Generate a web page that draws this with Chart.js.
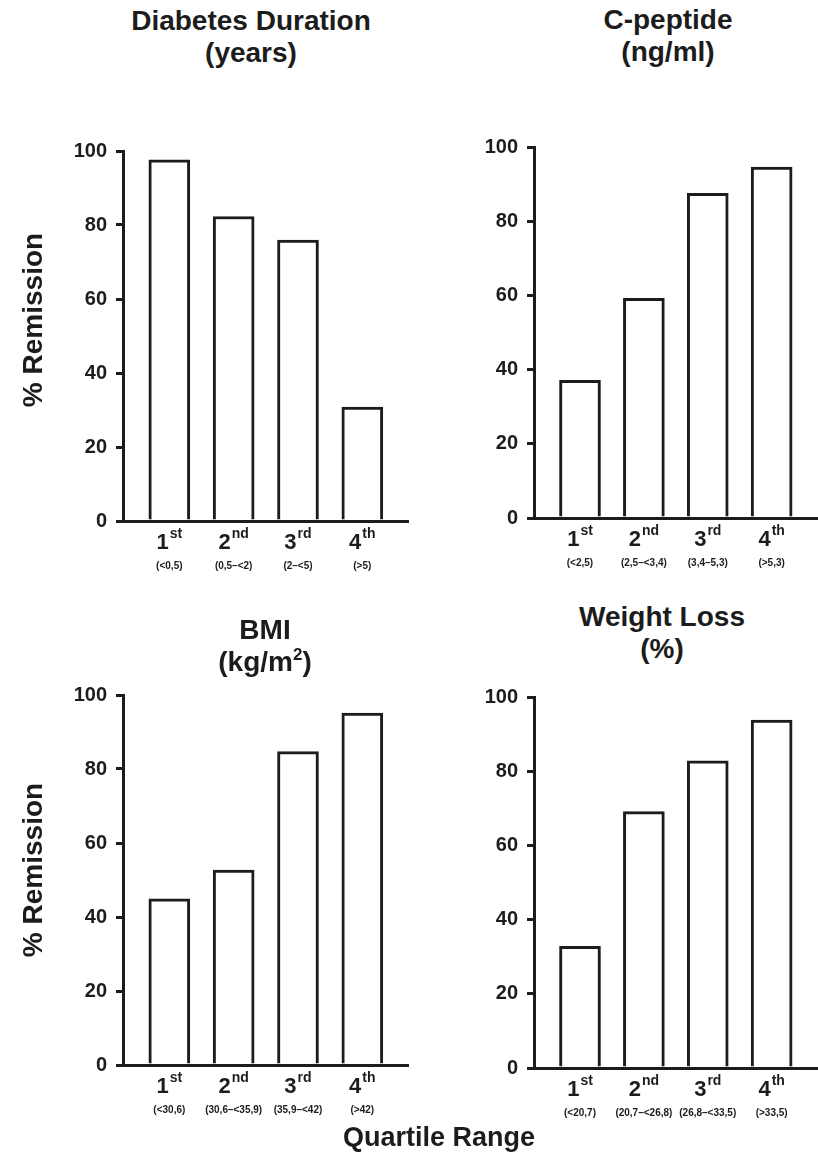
<!DOCTYPE html>
<html>
<head>
<meta charset="utf-8">
<script src="https://cdn.jsdelivr.net/npm/chart.js@4.4.1/dist/chart.umd.min.js"></script>
<style>
  body { margin: 0; background: #fff; width: 818px; height: 1162px; position: relative; overflow: hidden; }
  canvas { position: absolute; }
  .txt { position: absolute; font-family: 'Liberation Sans', Arial, sans-serif; font-weight: bold; color: #1c1c1c; text-align: center; white-space: nowrap; z-index: 2; }
  .title { font-size: 28px; line-height: 32px; transform: translateX(-50%); }
  .ylab { font-size: 28px; line-height: 32px; width: 300px; transform: rotate(-90deg); }
  .sup { font-size: 17px; position: relative; top: -11px; }
</style>
</head>
<body>
<div class="txt title" style="left:251px; top:5px;">Diabetes Duration<br>(years)</div>
<div class="txt title" style="left:668px; top:4px;">C-peptide<br>(ng/ml)</div>
<div class="txt title" style="left:265px; top:614px;">BMI<br>(kg/m<span class="sup">2</span>)</div>
<div class="txt title" style="left:662px; top:601px;">Weight Loss<br>(%)</div>
<div class="txt ylab" style="left:-117px; top:304px;">% Remission</div>
<div class="txt ylab" style="left:-117px; top:854px;">% Remission</div>
<div class="txt" style="left:343px; top:1124px; font-size:27px; line-height:27px;">Quartile Range</div>

<canvas id="c1" width="420" height="450" style="left:0; top:130px;"></canvas>
<canvas id="c2" width="408" height="450" style="left:410px; top:126px;"></canvas>
<canvas id="c3" width="420" height="450" style="left:0; top:674px;"></canvas>
<canvas id="c4" width="408" height="450" style="left:410px; top:676px;"></canvas>

<script>
const quartiles = ['1', '2', '3', '4'];
const suffixes = ['st', 'nd', 'rd', 'th'];

const durationRanges = ['(<0,5)', '(0,5–<2)', '(2–<5)', '(>5)'];
const durationValues = [97.6, 82.3, 75.9, 30.8];

const cpeptideRanges = ['(<2,5)', '(2,5–<3,4)', '(3,4–5,3)', '(>5,3)'];
const cpeptideValues = [37.1, 59.2, 87.5, 94.6];

const bmiRanges = ['(<30,6)', '(30,6–<35,9)', '(35,9–<42)', '(>42)'];
const bmiValues = [44.9, 52.7, 84.7, 95.1];

const weightRanges = ['(<20,7)', '(20,7–<26,8)', '(26,8–<33,5)', '(>33,5)'];
const weightValues = [32.8, 69.1, 82.8, 93.8];

const yMin = 0, yMax = 100, yStep = 20;

const INK = '#1c1c1c';
const FONT = "'Liberation Sans', Arial, sans-serif";

// draws "1st" etc with superscript + the range line under it
const quartileLabels = {
    id: 'quartileLabels',
    afterDraw(chart, args, opts) {
        const ctx = chart.ctx;
        const xs = chart.scales.x;
        const bottom = chart.chartArea.bottom;
        ctx.save();
        ctx.fillStyle = INK;
        ctx.textBaseline = 'alphabetic';
        quartiles.forEach((q, i) => {
            const cx = xs.getPixelForValue(i + 1);
            ctx.font = 'bold 22px ' + FONT;
            const dw = ctx.measureText(q).width;
            ctx.font = 'bold 14px ' + FONT;
            const sw = ctx.measureText(suffixes[i]).width;
            const start = cx - (dw + sw + 1) / 2;
            ctx.textAlign = 'left';
            ctx.font = 'bold 22px ' + FONT;
            ctx.fillText(q, start, bottom + 28);
            ctx.font = 'bold 14px ' + FONT;
            ctx.fillText(suffixes[i], start + dw + 1, bottom + 17);
            ctx.textAlign = 'center';
            ctx.font = 'bold 10px ' + FONT;
            ctx.fillText(opts.ranges[i], cx, bottom + 48);
        });
        ctx.restore();
    }
};

function makePanel(id, values, ranges, axisWidth, axisHeight, rightPad) {
    const ctx = document.getElementById(id).getContext('2d');
    return new Chart(ctx, {
        type: 'bar',
        data: {
            datasets: [{
                data: values.map((v, i) => ({ x: i + 1, y: v })),
                backgroundColor: '#ffffff',
                borderColor: INK,
                borderWidth: 3,
                barThickness: 41
            }]
        },
        options: {
            responsive: false,
            animation: false,
            layout: { padding: { top: 20, right: rightPad, left: 0, bottom: 0 } },
            scales: {
                x: {
                    type: 'linear',
                    offset: false,
                    min: 0.28, max: 4.71,
                    ticks: { display: false },
                    grid: { display: false, offset: false },
                    border: { display: true, width: 3, color: INK },
                    afterFit: s => { s.height = axisHeight; }
                },
                y: {
                    min: yMin, max: yMax,
                    ticks: {
                        stepSize: yStep,
                        color: INK,
                        padding: 9,
                        font: { family: FONT, size: 20, weight: 'bold' }
                    },
                    grid: { drawOnChartArea: false, drawTicks: true, tickLength: 7, lineWidth: 3, color: INK },
                    border: { display: true, width: 3, color: INK },
                    afterFit: s => { s.width = axisWidth; }
                }
            },
            plugins: {
                legend: { display: false },
                tooltip: { enabled: false },
                quartileLabels: { ranges: ranges }
            }
        },
        plugins: [quartileLabels]
    });
}

makePanel('c1', durationValues, durationRanges, 123, 59, 12);
makePanel('c2', cpeptideValues, cpeptideRanges, 124, 58, 1);
makePanel('c3', bmiValues, bmiRanges, 123, 59, 12);
makePanel('c4', weightValues, weightRanges, 124, 58, 1);
</script>
</body>
</html>
